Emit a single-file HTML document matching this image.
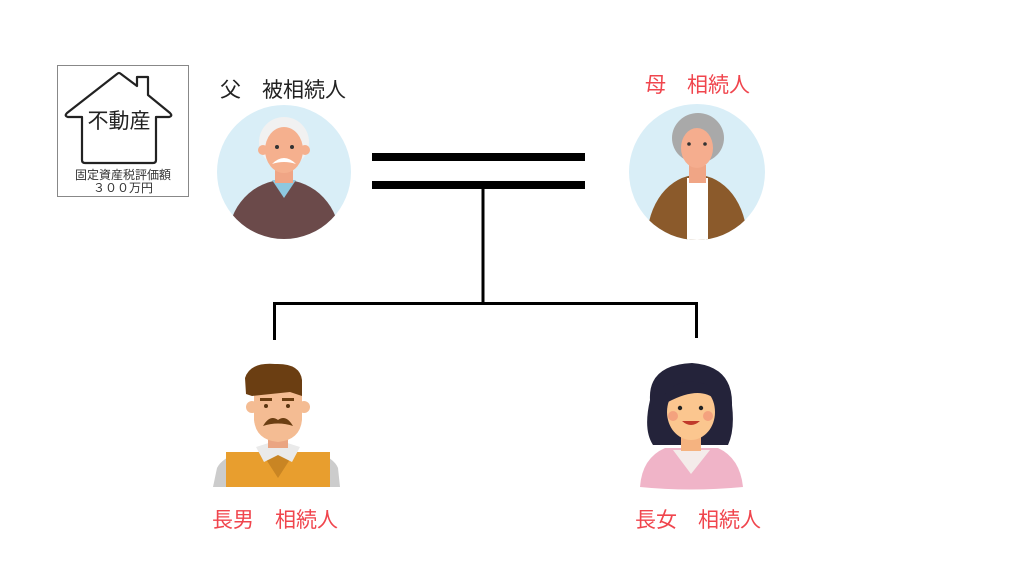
<!DOCTYPE html>
<html><head><meta charset="utf-8"><style>
html,body{margin:0;padding:0;background:#fff;}
svg{display:block;}
text{font-family:"Liberation Sans","Noto Sans CJK JP",sans-serif;}
</style></head><body>
<svg width="1024" height="576" viewBox="0 0 1024 576" xmlns="http://www.w3.org/2000/svg">
<defs>
<clipPath id="cf"><circle cx="284" cy="172" r="67"/></clipPath>
<clipPath id="cm"><circle cx="697" cy="172" r="68"/></clipPath>
</defs>
<rect x="57.5" y="65.5" width="131" height="131" fill="#fff" stroke="#888" stroke-width="1"/>
<path d="M82,117 L68,117 Q64,116 67,113 L117,74 Q119,72 121,74 L137,86 L137,77 L148,77 L148,95 L170,113 Q173,116 169,117 L156,117 L156,160 Q156,163 153,163 L85,163 Q82,163 82,160 Z" fill="none" stroke="#222" stroke-width="2.2" stroke-linejoin="round"/>
<text x="119" y="128" font-size="21" text-anchor="middle" fill="#222">不動産</text>
<text x="123" y="179" font-size="12" text-anchor="middle" fill="#333">固定資産税評価額</text>
<text x="123" y="192" font-size="12" text-anchor="middle" fill="#333">３００万円</text>

<text x="220" y="97" font-size="21" fill="#222">父　被相続人</text>
<circle cx="284" cy="172" r="67" fill="#d9eef7"/>
<g clip-path="url(#cf)">
<ellipse cx="284" cy="240" rx="56" ry="60" fill="#6b4a4a"/>
<path d="M272,180 L296,180 L284,198 Z" fill="#8ec8e0"/>
<rect x="275" y="165" width="18" height="18" fill="#f0a585"/>
<circle cx="284" cy="142" r="25" fill="#f1f1f1"/>
<ellipse cx="284" cy="150" rx="19" ry="23" fill="#f5b08e"/>
<circle cx="263" cy="150" r="5" fill="#f5b08e"/>
<circle cx="305" cy="150" r="5" fill="#f5b08e"/>
<circle cx="277" cy="147" r="2" fill="#333"/>
<circle cx="292" cy="147" r="2" fill="#333"/>
<path d="M272,164 Q284,152 296,164 Q284,160 272,164Z" fill="#fff"/>
</g>

<text x="645" y="92" font-size="21" fill="#f0454d">母　相続人</text>
<circle cx="697" cy="172" r="68" fill="#d9eef7"/>
<g clip-path="url(#cm)">
<ellipse cx="697" cy="240" rx="50" ry="65" fill="#8b5a2b"/>
<rect x="687" y="178" width="21" height="70" fill="#fff"/>
<rect x="689" y="165" width="17" height="18" fill="#f0a585"/>
<ellipse cx="698" cy="138" rx="26" ry="25" fill="#a9a9a9"/>
<ellipse cx="697" cy="148" rx="16" ry="20" fill="#f5ad8e"/>
<circle cx="689" cy="144" r="1.8" fill="#333"/>
<circle cx="705" cy="144" r="1.8" fill="#333"/>
</g>

<rect x="372" y="153" width="213" height="8" fill="#000"/>
<rect x="372" y="181" width="213" height="8" fill="#000"/>
<rect x="481.5" y="185" width="3" height="119" fill="#000"/>
<rect x="273" y="302" width="425" height="3" fill="#000"/>
<rect x="273" y="302" width="3" height="38" fill="#000"/>
<rect x="695" y="302" width="3" height="36" fill="#000"/>

<path d="M213,487 L217,468 Q222,458 240,452 L316,452 Q334,458 338,468 L340,487 Z" fill="#cccccc"/>
<rect x="226" y="452" width="104" height="35" fill="#e89e2e"/>
<path d="M258,447 L298,447 L278,478 Z" fill="#c98523"/>
<path d="M256,447 L264,462 L278,455 L292,462 L300,447 L278,440 Z" fill="#eaeaea"/>
<rect x="268" y="428" width="20" height="20" fill="#eaa582"/>
<path d="M254,392 L302,392 L302,420 Q300,440 278,442 Q256,440 254,420 Z" fill="#f4bc93"/>
<circle cx="252" cy="407" r="6" fill="#f4bc93"/>
<circle cx="304" cy="407" r="6" fill="#f4bc93"/>
<path d="M245,378 Q250,362 275,364 Q300,363 302,380 L302,396 L290,392 L252,396 L246,394 Z" fill="#6b3e12"/>
<rect x="260" y="398" width="12" height="3" fill="#6b3e12"/>
<rect x="282" y="398" width="12" height="3" fill="#6b3e12"/>
<circle cx="266" cy="406" r="2" fill="#5a3510"/>
<circle cx="288" cy="406" r="2" fill="#5a3510"/>
<path d="M263,426 Q270,414 278,420 Q286,414 293,426 Q278,421 263,426Z" fill="#6b3e12"/>

<path d="M650,400 Q648,365 692,363 Q733,366 732,405 Q735,430 728,445 L653,445 Q643,430 650,400Z" fill="#24233a"/>
<path d="M640,487 Q642,458 665,448 L718,448 Q740,458 743,487 Q690,492 640,487Z" fill="#f0b4c8"/>
<path d="M673,450 L710,450 L691,474 Z" fill="#f4ecea"/>
<rect x="681" y="435" width="20" height="16" fill="#f5b380"/>
<ellipse cx="691" cy="412" rx="24" ry="28" fill="#fbc68f"/>
<path d="M664,395 Q680,375 708,385 L716,400 Q700,385 668,402Z" fill="#24233a"/>
<circle cx="680" cy="408" r="2.2" fill="#222"/>
<circle cx="701" cy="408" r="2.2" fill="#222"/>
<circle cx="673" cy="416" r="5" fill="#f4a27e"/>
<circle cx="708" cy="416" r="5" fill="#f4a27e"/>
<path d="M682,421 Q691,429 700,421 Z" fill="#c0392b"/>

<text x="212" y="527" font-size="21" fill="#f0454d">長男　相続人</text>
<text x="635" y="527" font-size="21" fill="#f0454d">長女　相続人</text>
</svg>
</body></html>
